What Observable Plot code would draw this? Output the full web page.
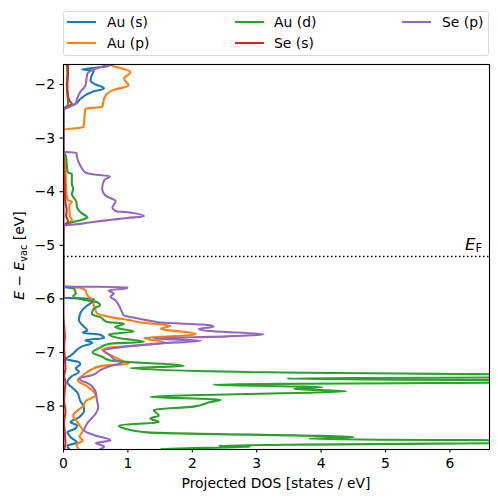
<!DOCTYPE html>
<html><head><meta charset="utf-8">
<script src="https://cdn.jsdelivr.net/npm/d3@7"></script>
<script src="https://cdn.jsdelivr.net/npm/@observablehq/plot@0.6"></script>
<style>
body{margin:0;background:#fff;font-family:"DejaVu Sans",sans-serif;}
#wrap{position:relative;width:498px;height:502px;overflow:hidden;}
#legend{position:relative;height:60px;}
.lg-box{position:absolute;left:63px;top:11px;width:426px;height:45px;box-sizing:border-box;border:1px solid #d9d9d9;border-radius:3px;}
.lg-line{position:absolute;width:29px;height:2px;}
.lg-text{position:absolute;font-size:13.9px;line-height:16px;color:#000;white-space:nowrap;}
#chart svg{display:block}
</style></head><body>
<div id="wrap"><div id="legend"><div class="lg-box"></div></div><div id="chart"></div></div>
<script>
const seriesNames = ["Au (s)", "Au (p)", "Au (d)", "Se (s)", "Se (p)"];
const seriesColors = ["#1f77b4", "#ff7f0e", "#2ca02c", "#d62728", "#9467bd"];
const xTicks = [0, 1, 2, 3, 4, 5, 6];
const yTicks = [-8, -7, -6, -5, -4, -3, -2];
const xDomain = [0, 6.615];
const yDomain = [-8.81, -1.627];
const fermiLevel = -5.21;

// [energy (eV), projected DOS (states/eV)]
const auS = [[-1.63,0.72],[-1.66,0.68],[-1.72,0.29],[-1.74,0.47],[-1.83,0.44],[-1.93,0.42],[-2.00,0.50],[-2.07,0.63],[-2.14,0.44],[-2.27,0.26],[-2.36,0.19],[-2.42,0.05],[-2.45,0],
[-5.98,0],[-6.00,0.47],[-6.05,0.45],[-6.15,0.34],[-6.27,0.26],[-6.40,0.24],[-6.52,0.32],[-6.59,0.37],[-6.63,0.30],[-6.67,0.57],[-6.73,0.63],[-6.77,0.34],[-6.82,0.45],[-6.89,0.28],[-6.96,0.20],[-7.06,0.11],[-7.12,0.03],[-7.18,0.24],[-7.22,0.26],[-7.30,0.19],[-7.36,0.24],[-7.45,0.12],[-7.56,0.06],[-7.65,0.13],[-7.74,0.21],[-7.90,0.26],[-7.98,0.30],[-8.08,0.32],[-8.21,0.24],[-8.30,0.11],[-8.36,0.21],[-8.42,0.18],[-8.49,0.06],[-8.58,0.11],[-8.68,0.21],[-8.74,0.06],[-8.82,0.10]];
const auP = [[-1.63,0.72],[-1.65,0.76],[-1.77,1.04],[-1.89,0.94],[-2.02,1.01],[-2.10,0.78],[-2.17,0.68],[-2.27,0.63],[-2.42,0.60],[-2.45,0.34],[-2.80,0.31],[-2.84,0],
[-3.25,0],[-3.45,0.03],[-3.90,0.04],[-4.15,0.06],[-4.19,0.13],[-4.25,0.09],[-4.45,0.10],[-4.53,0.13],[-4.60,0.04],[-4.63,0],
[-5.77,0],[-5.79,0.26],[-5.84,0.34],[-5.93,0.37],[-6.03,0.45],[-6.12,0.47],[-6.22,0.50],[-6.27,0.52],[-6.34,0.73],[-6.40,1.04],[-6.44,1.20],[-6.50,1.66],[-6.56,1.51],[-6.65,2.05],[-6.68,1.95],[-6.73,1.25],[-6.81,1.57],[-6.87,1.14],[-6.90,0.78],[-6.95,0.60],[-7.06,0.75],[-7.15,0.90],[-7.21,1.01],[-7.25,0.60],[-7.34,0.40],[-7.43,0.30],[-7.52,0.22],[-7.62,0.35],[-7.71,0.45],[-7.80,0.50],[-7.90,0.35],[-8.01,0.30],[-8.08,0.22],[-8.18,0.15],[-8.27,0.20],[-8.36,0.25],[-8.46,0.30],[-8.57,0.25],[-8.64,0.30],[-8.72,0.20],[-8.82,0.25]];
const auD = [[-1.63,0.05],[-1.80,0.06],[-2.00,0.05],[-2.20,0.06],[-2.35,0.07],[-2.42,0.05],[-2.45,0],
[-3.24,0],[-3.27,0.01],[-3.35,0.04],[-3.60,0.06],[-3.64,0.07],[-3.67,0.13],[-3.85,0.13],[-3.95,0.15],[-4.05,0.13],[-4.19,0.20],[-4.29,0.21],[-4.40,0.28],[-4.48,0.37],[-4.52,0.30],[-4.58,0.11],[-4.63,0],
[-5.78,0],[-5.80,0.16],[-5.90,0.19],[-5.95,0.15],[-6.03,0.37],[-6.06,0.52],[-6.12,0.57],[-6.18,0.47],[-6.28,0.44],[-6.34,0.57],[-6.43,0.68],[-6.46,0.94],[-6.53,0.80],[-6.61,1.09],[-6.66,0.70],[-6.74,0.90],[-6.80,1.25],[-6.84,0.70],[-6.92,0.55],[-7.00,0.45],[-7.08,0.60],[-7.15,0.73],[-7.25,1.87],[-7.29,1.04],[-7.37,3.21],[-7.45,10.0],[-7.485,3.47],[-7.54,9.0],[-7.60,2.33],[-7.65,4.02],[-7.68,3.58],[-7.72,4.39],[-7.83,1.35],[-7.88,2.44],[-7.93,2.26],[-8.01,2.02],[-8.07,1.40],[-8.18,1.48],[-8.23,1.35],[-8.30,1.48],[-8.36,0.86],[-8.42,0.95],[-8.49,1.30],[-8.58,4.51],[-8.61,3.81],[-8.66,9.0],[-8.74,2.41],[-8.76,2.90],[-8.80,1.51],[-8.82,1.80]];
const seS = [[-1.63,0.07],[-1.80,0.07],[-2.00,0.06],[-2.20,0.07],[-2.30,0.09],[-2.36,0.13],[-2.42,0.05],[-2.45,0],
[-3.26,0],[-3.60,0.01],[-4.00,0.02],[-4.20,0.03],[-4.35,0.05],[-4.45,0.04],[-4.55,0.07],[-4.62,0.02],[-4.64,0],
[-5.80,0],[-6.30,0.00],[-6.50,0.01],[-6.70,0.02],[-6.90,0.01],[-7.10,0.02],[-7.30,0.03],[-7.45,0.01],[-7.55,0.03],[-7.70,0.02],[-7.90,0.01],[-8.10,0.03],[-8.30,0.01],[-8.50,0.02],[-8.70,0.03],[-8.82,0.01]];
const seP = [[-1.63,0.75],[-1.66,0.62],[-1.72,0.47],[-1.80,0.37],[-2.02,0.34],[-2.14,0.26],[-2.27,0.21],[-2.36,0.19],[-2.40,0.12],[-2.45,0.03],[-2.47,0],
[-3.26,0],[-3.27,0.20],[-3.36,0.21],[-3.51,0.26],[-3.64,0.34],[-3.68,0.47],[-3.71,0.72],[-3.79,0.63],[-3.95,0.60],[-4.07,0.65],[-4.18,0.81],[-4.29,0.76],[-4.37,0.83],[-4.38,0.96],[-4.46,1.25],[-4.49,0.99],[-4.54,0.63],[-4.60,0.26],[-4.63,0.03],[-4.64,0],
[-5.77,0],[-5.78,0.99],[-5.80,0.99],[-5.84,0.70],[-5.90,0.78],[-5.96,0.73],[-6.03,0.81],[-6.12,0.86],[-6.25,0.91],[-6.31,0.94],[-6.36,1.14],[-6.41,1.35],[-6.44,1.51],[-6.49,2.28],[-6.52,2.33],[-6.56,2.10],[-6.60,2.28],[-6.66,3.11],[-6.70,2.54],[-6.74,1.40],[-6.78,2.13],[-6.83,1.51],[-6.90,0.90],[-6.96,0.63],[-7.06,0.73],[-7.14,0.80],[-7.19,0.91],[-7.25,0.73],[-7.31,0.60],[-7.42,0.45],[-7.49,0.24],[-7.58,0.39],[-7.74,0.50],[-7.90,0.52],[-8.02,0.54],[-8.14,0.50],[-8.32,0.37],[-8.45,0.32],[-8.54,0.47],[-8.64,0.73],[-8.69,0.50],[-8.75,0.63],[-8.82,0.55]];
const seriesData = [auS, auP, auD, seS, seP];

// legend (HTML, above the SVG)
const legend = document.getElementById("legend");
const colLine = [67, 235, 402], colText = [107, 274, 442], rowY = [22, 43];
seriesNames.forEach((name, i) => {
  const c = Math.floor(i / 2), r = i % 2;
  const ln = document.createElement("div");
  ln.className = "lg-line";
  ln.style.left = colLine[c] + "px"; ln.style.top = (rowY[r] - 1) + "px"; ln.style.background = seriesColors[i];
  legend.appendChild(ln);
  const tx = document.createElement("div");
  tx.className = "lg-text";
  tx.style.left = colText[c] + "px"; tx.style.top = (rowY[r] - 7.7) + "px";
  tx.textContent = name;
  legend.appendChild(tx);
});

const rows = [];
seriesData.forEach((pts, i) => pts.forEach(([e, d]) => rows.push({series: seriesNames[i], energy: e, dos: d})));
const fmt = d => d < 0 ? "\u2212" + Math.abs(d) : String(d);

const W = 498, H = 442, mT = 4, mB = 53, mL = 63, mR = 9;
const chart = Plot.plot({
  width: W, height: H,
  marginTop: mT, marginBottom: mB, marginLeft: mL, marginRight: mR,
  style: {fontFamily: "DejaVu Sans", fontSize: "13.9px", color: "#000", background: "#fff", overflow: "visible"},
  x: {domain: xDomain},
  y: {domain: yDomain},
  color: {domain: seriesNames, range: seriesColors},
  marks: [
    Plot.line(rows, {x: "dos", y: "energy", z: "series", stroke: "series", strokeWidth: 2.08, clip: true, curve: "monotone-y"}),
    Plot.ruleY([fermiLevel], {stroke: "#000", strokeWidth: 1.5, strokeDasharray: "1.5,2.5"}),
    Plot.frame({stroke: "#000", strokeWidth: 1.1}),
    Plot.axisX({ticks: xTicks, tickSize: 3.5, tickPadding: 5, tickFormat: fmt, label: null, strokeWidth: 1.1}),
    Plot.axisY({ticks: yTicks, tickSize: 3.5, tickPadding: 5, tickFormat: fmt, label: null, strokeWidth: 1.1})
  ]
});
document.getElementById("chart").appendChild(chart);

const svg = d3.select(chart);
const xs = chart.scale("x"), ys = chart.scale("y");
const xPx = v => xs.apply ? xs.apply(v) : mL + (v - xDomain[0]) / (xDomain[1] - xDomain[0]) * (W - mL - mR);
const yPx = v => ys.apply ? ys.apply(v) : mT + (yDomain[1] - v) / (yDomain[1] - yDomain[0]) * (H - mT - mB);

// x label
svg.append("text").attr("x", (mL + W - mR) / 2).attr("y", 428).attr("text-anchor", "middle")
  .attr("font-size", "13.9px").attr("fill", "#000").text("Projected DOS [states / eV]");

// y label
const yl = svg.append("text").attr("transform", `translate(23.5,${(mT + H - mB) / 2 - 1}) rotate(-90)`)
  .attr("text-anchor", "middle").attr("font-size", "13.9px").attr("fill", "#000");
yl.append("tspan").attr("font-style", "italic").text("E");
yl.append("tspan").text(" \u2212 ");
yl.append("tspan").attr("font-style", "italic").text("E");
yl.append("tspan").attr("font-size", "9.7px").attr("dy", 3).text("vac");
yl.append("tspan").attr("dy", -3).text(" [eV]");

// E_F label
const ef = svg.append("text").attr("x", xPx(xDomain[1]) - 7).attr("y", yPx(fermiLevel) - 6)
  .attr("text-anchor", "end").attr("font-size", "16.5px").attr("fill", "#000");
ef.append("tspan").attr("font-style", "italic").text("E");
ef.append("tspan").attr("font-size", "11.5px").attr("dy", 1.5).text("F");
</script>
</body></html>
